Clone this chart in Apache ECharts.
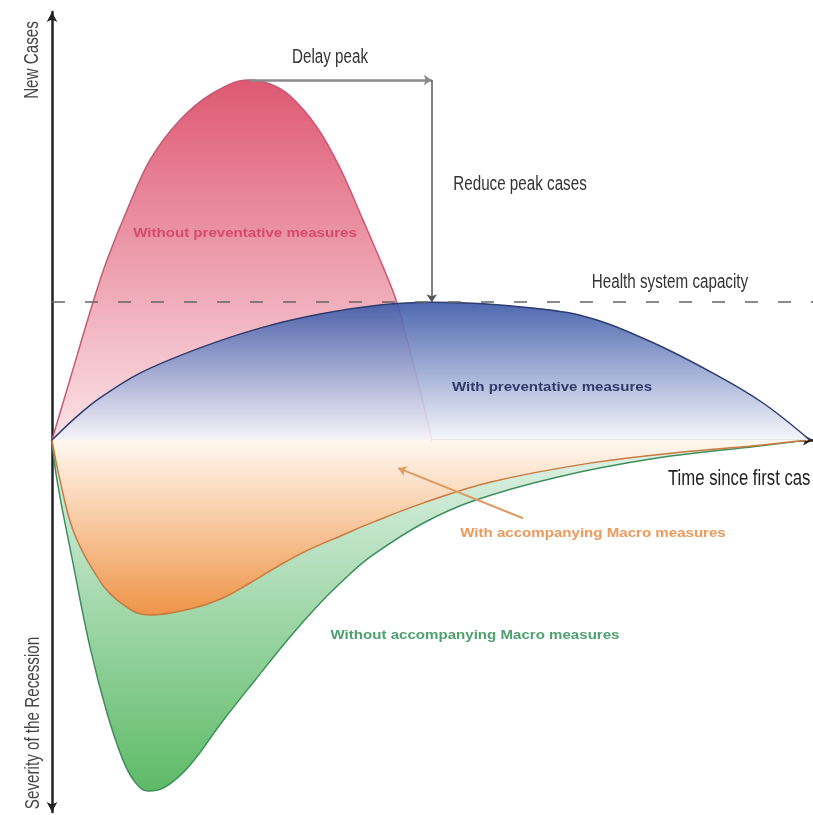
<!DOCTYPE html>
<html>
<head>
<meta charset="utf-8">
<script src="https://cdn.jsdelivr.net/npm/echarts@6/dist/echarts.min.js"></script>
<style>
  html, body { margin: 0; padding: 0; background: #fff; }
  #chart { width: 813px; height: 815px; }
</style>
</head>
<body>
<div id="chart"></div>
<script>
var chart = echarts.init(document.getElementById('chart'));

// curves: [time, level]
var withoutPrevention = [[0,0],[2.37,16.9],[5.39,38.3],[7.23,50],[9.86,63.9],[12.88,77.8],[16.82,88.9],[21.16,96.4],
  [25.76,100],[28.65,98.9],[31.27,95.6],[34.82,86.9],[37.84,75.6],[40.87,61.1],[43.5,48.1],[45.3,38.3],[47.7,19.4],[49.93,0]];
var withPrevention = [[0,0],[3.02,6.1],[6.31,11.7],[11.56,18.6],[19.45,25.6],[27.33,31.1],[35.22,35],[43.1,37.5],
  [49.93,38.3],[58.87,37.5],[69.38,34.7],[78.19,27.8],[86.86,18.6],[93.43,10.3],[99.6,0]];
var withMacro = [[0,0],[1.05,-11.1],[2.76,-25],[5.39,-36.1],[8.54,-44.4],[12.88,-48.6],[18.13,-46.9],[22.08,-44.2],
  [26.02,-39.7],[29.96,-34.7],[33.9,-30.3],[37.84,-26.7],[42.18,-22.8],[48.75,-17.5],[57.56,-11.7],[70.7,-6.4],
  [83.84,-3.1],[91.7,-1.7],[99.34,0]];
var withoutMacro = [[0,0],[0.66,-11.1],[2.76,-34.2],[4.99,-57.5],[7.23,-75.8],[9.33,-88.9],[10.91,-95],[12.61,-97.5],
  [14.85,-96.4],[18.13,-90.3],[22.34,-78.3],[26.68,-66.7],[31.27,-54.7],[35.22,-45.3],[39.16,-37.2],[42.18,-31.9],
  [48.75,-23.1],[55.32,-16.9],[66.36,-10.3],[79.5,-5],[92.64,-1.7],[99.34,0]];

var capacity = 38.3;
var delayArrow = [[25.9,100],[49.9,100]];
var reduceArrow = [[49.9,100],[49.9,38.3]];
var macroArrow = [[61.9,-21.7],[45.5,-7.8]];

var plainFont = '"Liberation Sans", Arial, sans-serif';

function grad(c0, c1) {
  return new echarts.graphic.LinearGradient(0, 0, 0, 1, [
    { offset: 0, color: c0 },
    { offset: 1, color: c1 }
  ]);
}

// narrow grey captions: squeeze a normal sans horizontally
function caption(x, y, text, color, opts) {
  opts = opts || {};
  return {
    type: 'text', x: x, y: y, rotation: opts.rotation || 0, scaleX: 0.76, z: 100,
    style: {
      text: text, fill: color, fontSize: opts.size || 20, fontFamily: plainFont,
      textAlign: opts.align || 'center', textVerticalAlign: 'middle'
    }
  };
}

// bold coloured labels inside the shapes, slightly stretched
function tag(x, y, text, color) {
  return {
    type: 'text', x: x, y: y, scaleX: 1.16, z: 100,
    style: {
      text: text, fill: color, fontSize: 13, fontWeight: 'bold', fontFamily: plainFont,
      textAlign: 'center', textVerticalAlign: 'middle'
    }
  };
}

var option = {
  animation: false,
  grid: { left: 52, right: 0, top: 12, bottom: 3 },
  xAxis: {
    type: 'value', min: 0, max: 100,
    axisLine: { onZero: true, symbol: ['none', 'arrow'], symbolSize: [8, 10], lineStyle: { color: '#222', width: 2.5 } },
    axisTick: { show: false }, axisLabel: { show: false }, splitLine: { show: false }
  },
  yAxis: {
    type: 'value', min: -103.3, max: 118.9,
    axisLine: { show: true, onZero: false, symbol: ['arrow', 'arrow'], symbolSize: [8, 10], lineStyle: { color: '#222', width: 2.5 } },
    axisTick: { show: false }, axisLabel: { show: false }, splitLine: { show: false }
  },
  series: [
    {
      name: 'Without accompanying Macro measures', type: 'line', data: withoutMacro,
      smooth: 0.4, symbol: 'none', z: 1,
      lineStyle: { color: '#3f8f5e', width: 1.5 },
      areaStyle: { color: grad('#e2f3ea', '#5dba66'), opacity: 1 }
    },
    {
      name: 'With accompanying Macro measures', type: 'line', data: withMacro,
      smooth: 0.4, symbol: 'none', z: 2,
      lineStyle: { color: '#c97a40', width: 1.5 },
      areaStyle: { color: grad('#fff8f0', '#ef9448'), opacity: 1 }
    },
    {
      name: 'Without preventative measures', type: 'line', data: withoutPrevention,
      smooth: 0.35, symbol: 'none', z: 3,
      lineStyle: { color: '#c65a74', width: 1.5 },
      areaStyle: { color: grad('#de5873', '#fbe3e7'), opacity: 1 }
    },
    {
      name: 'With preventative measures', type: 'line', data: withPrevention,
      smooth: 0.35, symbol: 'none', z: 4,
      lineStyle: { color: '#2f3c70', width: 1.5 },
      areaStyle: { color: grad('#3b58a8', '#f6f6fb'), opacity: 0.9 },
      markLine: {
        silent: true, symbol: ['none', 'arrow'], symbolSize: 8, label: { show: false },
        data: [
          [{ coord: [0, capacity], symbol: 'none', lineStyle: { color: '#666', width: 1.5, type: [13, 20] } },
           { coord: [100, capacity], symbol: 'none' }],
          [{ coord: delayArrow[0], lineStyle: { color: '#8a8a8a', width: 2.5, type: 'solid' } },
           { coord: delayArrow[1] }],
          [{ coord: reduceArrow[0], lineStyle: { color: '#555', width: 1.5, type: 'solid' } },
           { coord: reduceArrow[1] }],
          [{ coord: macroArrow[0], lineStyle: { color: '#dd9a62', width: 2, type: 'solid' } },
           { coord: macroArrow[1] }]
        ]
      }
    }
  ],
  graphic: [
    caption(32, 60, 'New Cases', '#444', { rotation: Math.PI / 2 }),
    caption(33, 723, 'Severity of the Recession', '#444', { rotation: Math.PI / 2 }),
    caption(330, 57, 'Delay peak', '#333'),
    caption(520, 184, 'Reduce peak cases', '#333'),
    caption(670, 282, 'Health system capacity', '#333'),
    caption(668, 479, 'Time since first cas', '#222', { align: 'left', size: 22 }),
    tag(245, 233, 'Without preventative measures', '#d84a6c'),
    tag(552, 387, 'With preventative measures', '#313a6a'),
    tag(593, 533, 'With accompanying Macro measures', '#eb9a5c'),
    tag(475, 635, 'Without accompanying Macro measures', '#4fa070')
  ]
};

chart.setOption(option);
</script>
</body>
</html>
